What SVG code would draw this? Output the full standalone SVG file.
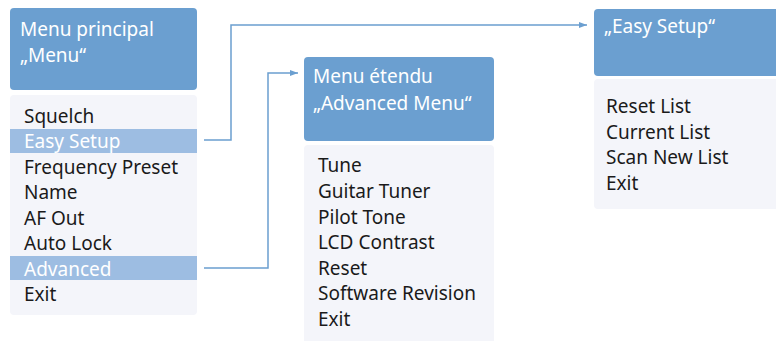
<svg xmlns="http://www.w3.org/2000/svg" width="776" height="341" viewBox="0 0 776 341">
<defs>
<style>
.hd{fill:#6b9fd0}
.bd{fill:#f4f5fa}
.hl{fill:#9dbde2}
.ht{font-family:"Noto Sans","Open Sans",sans-serif;font-size:19px;fill:#ffffff}
.it{font-family:"Noto Sans","Open Sans",sans-serif;font-size:19px;fill:#1a1a1a}
.iw{font-family:"Noto Sans","Open Sans",sans-serif;font-size:19px;fill:#ffffff}
.cn{fill:none;stroke:#6b9fd0;stroke-width:1.5}
</style>
<marker id="ah" markerWidth="8" markerHeight="6" refX="8" refY="3" orient="auto" markerUnits="userSpaceOnUse">
<path d="M0,0 L8,3 L0,6 Z" fill="#6b9fd0"/>
</marker>
</defs>
<rect width="776" height="341" fill="#ffffff"/>
<g id="main-menu">
<rect class="hd" x="10" y="8" width="187" height="82" rx="4"/>
<text class="ht" x="20" y="36">Menu principal</text>
<text class="ht" x="20" y="62">„Menu“</text>
<rect class="bd" x="10" y="95" width="187" height="220" rx="4"/>
<rect class="hl" x="10" y="129" width="187" height="24"/>
<rect class="hl" x="10" y="256" width="187" height="24"/>
<text class="it" x="24" y="123">Squelch</text>
<text class="iw" x="24" y="148">Easy Setup</text>
<text class="it" x="24" y="174">Frequency Preset</text>
<text class="it" x="24" y="199">Name</text>
<text class="it" x="24" y="225">AF Out</text>
<text class="it" x="24" y="250">Auto Lock</text>
<text class="iw" x="24" y="276">Advanced</text>
<text class="it" x="24" y="301">Exit</text>
</g>
<g id="advanced-menu">
<rect class="hd" x="304" y="57" width="190" height="84" rx="4"/>
<text class="ht" x="313" y="83">Menu étendu</text>
<text class="ht" x="313" y="110">„Advanced Menu“</text>
<rect class="bd" x="304" y="145" width="190" height="200" rx="4"/>
<text class="it" x="318" y="172">Tune</text>
<text class="it" x="318" y="198">Guitar Tuner</text>
<text class="it" x="318" y="224">Pilot Tone</text>
<text class="it" x="318" y="249">LCD Contrast</text>
<text class="it" x="318" y="275">Reset</text>
<text class="it" x="318" y="300">Software Revision</text>
<text class="it" x="318" y="326">Exit</text>
</g>
<g id="easy-setup">
<rect class="hd" x="594" y="9" width="190" height="67" rx="4"/>
<text class="ht" x="604" y="33">„Easy Setup“</text>
<rect class="bd" x="594" y="79" width="190" height="130" rx="4"/>
<text class="it" x="606" y="113">Reset List</text>
<text class="it" x="606" y="139">Current List</text>
<text class="it" x="606" y="164">Scan New List</text>
<text class="it" x="606" y="190">Exit</text>
</g>
<g id="connectors">
<polyline class="cn" points="204,140 231,140 231,25 587,25" marker-end="url(#ah)"/>
<polyline class="cn" points="204,268 268,268 268,73 298,73" marker-end="url(#ah)"/>
</g>
</svg>
